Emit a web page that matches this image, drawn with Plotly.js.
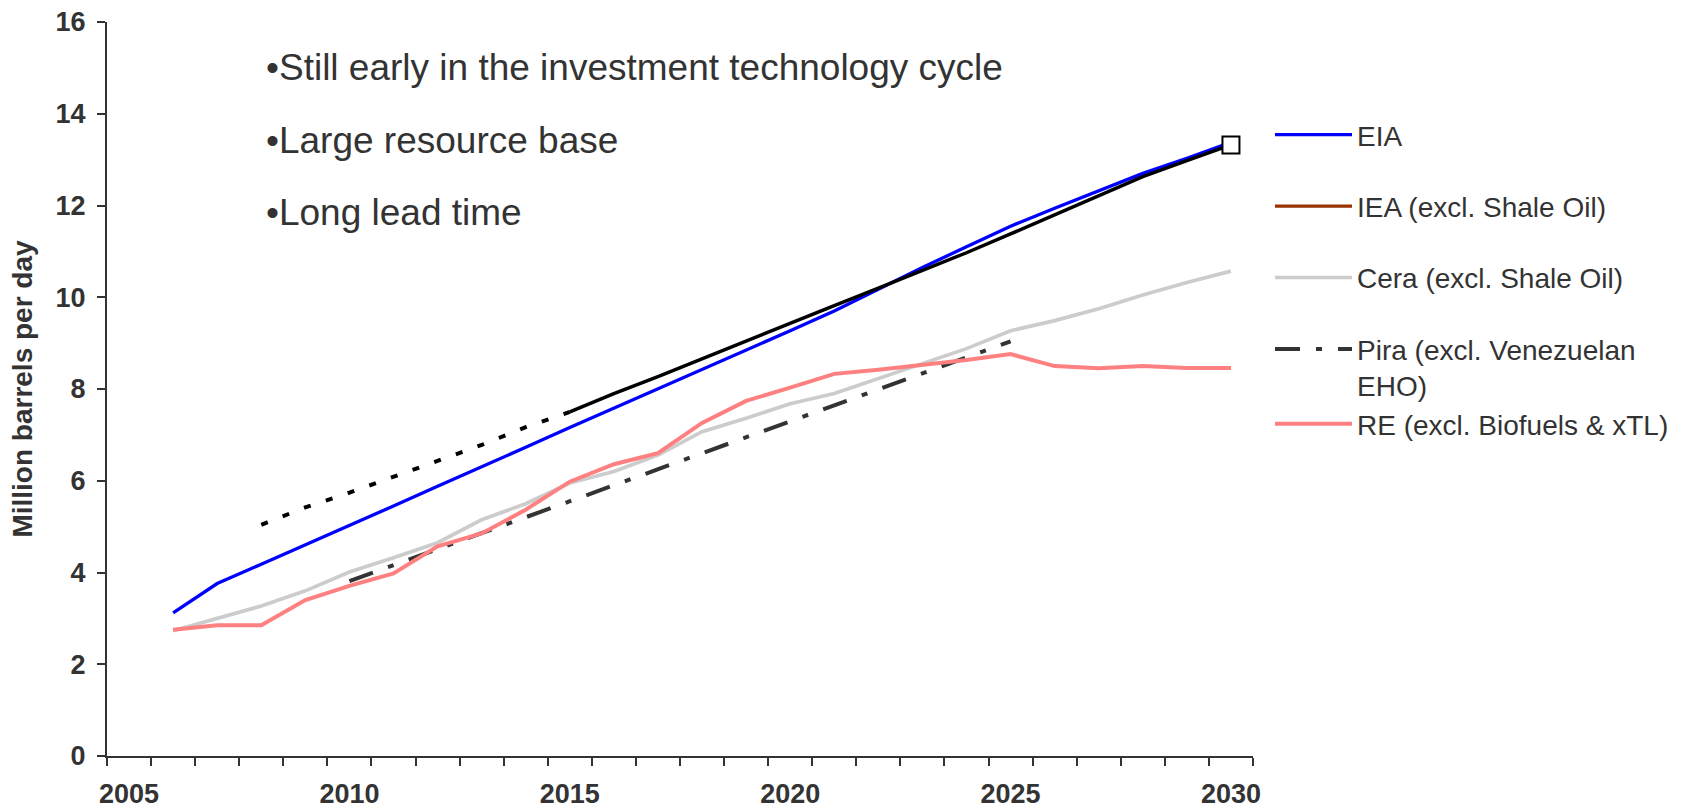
<!DOCTYPE html>
<html>
<head>
<meta charset="utf-8">
<script src="https://cdn.plot.ly/plotly-3.0.1.min.js"></script>
<style>html,body{margin:0;padding:0;background:#fff;}</style>
</head>
<body>
<div id="chart" style="width:1690px;height:812px;"></div>
<script>
// Category axis (years) and tick labels
const years = [2005,2006,2007,2008,2009,2010,2011,2012,2013,2014,2015,2016,2017,2018,2019,2020,2021,2022,2023,2024,2025,2026,2027,2028,2029,2030];
const tickLabels = ['2005','','','','','2010','','','','','2015','','','','','2020','','','','','2025','','','','','2030'];

// Series
const seriesYears = [2006,2007,2008,2009,2010,2011,2012,2013,2014,2015,2016,2017,2018,2019,2020,2021,2022,2023,2024,2025,2026,2027,2028,2029,2030];
const eiaValues  = [3.12,3.76,4.18,4.60,5.03,5.45,5.88,6.30,6.73,7.16,7.58,8.00,8.42,8.85,9.27,9.70,10.17,10.65,11.10,11.55,11.94,12.32,12.70,13.03,13.38];
const ceraValues = [2.73,3.00,3.27,3.60,4.01,4.32,4.65,5.15,5.50,5.95,6.20,6.56,7.07,7.36,7.68,7.90,8.22,8.55,8.88,9.27,9.49,9.75,10.05,10.32,10.57];
const reValues   = [2.75,2.85,2.85,3.40,3.71,3.98,4.57,4.85,5.37,5.98,6.36,6.60,7.26,7.74,8.03,8.33,8.42,8.52,8.63,8.76,8.50,8.45,8.50,8.46,8.46];
const piraYears  = [2010,2015,2020,2025];
const piraValues = [3.81,5.55,7.28,9.04];
const blackDotYears  = [2008,2009,2010,2011,2012,2013,2014,2015];
const blackDotValues = [5.04,5.42,5.74,6.09,6.42,6.78,7.17,7.50];
const blackSolidYears  = [2015,2016,2017,2018,2019,2020,2021,2022,2023,2024,2025,2026,2027,2028,2029,2030];
const blackSolidValues = [7.50,7.90,8.27,8.66,9.06,9.45,9.82,10.20,10.58,10.97,11.38,11.80,12.20,12.63,12.98,13.32];

const FONT = '"Liberation Sans", Arial, Helvetica, sans-serif';
const TXT = '#333333';

const traces = [
  {name:'EIA', x:seriesYears, y:eiaValues, mode:'lines', line:{color:'#0000FF', width:3.3},
   legendgroup:'g1', legend:'legend'},
  {name:'IEA (excl. Shale Oil)', x:[null], y:[null], mode:'lines', line:{color:'#993300', width:3.3},
   legendgroup:'g2', legend:'legend'},
  {name:'Cera (excl. Shale Oil)', x:seriesYears, y:ceraValues, mode:'lines', line:{color:'#CCCCCC', width:3.7},
   legendgroup:'g3', legend:'legend'},
  {name:'Pira (excl. Venezuelan<br>EHO)', x:piraYears, y:piraValues, mode:'lines', connectgaps:true,
   line:{color:'#333333', width:4, dash:'25px,16px,6px,16px'}, legendgroup:'g4', legend:'legend'},
  {name:'black dotted', x:blackDotYears, y:blackDotValues, mode:'lines',
   line:{color:'#000000', width:4, dash:'7px,16px'}, showlegend:false},
  {name:'black solid', x:blackSolidYears, y:blackSolidValues, mode:'lines',
   line:{color:'#000000', width:3.5}, showlegend:false},
  {name:'RE (excl. Biofuels & xTL)', x:seriesYears, y:reValues, mode:'lines', line:{color:'#FF8080', width:4},
   legend:'legend2'},
  {name:'end', x:[blackSolidYears[blackSolidYears.length-1]], y:[blackSolidValues[blackSolidValues.length-1]],
   mode:'markers', marker:{symbol:'square', size:17, color:'#FFFFFF', line:{color:'#000000', width:2}}, showlegend:false}
];

const legendBase = {
  xref:'container', yref:'container', xanchor:'left', yanchor:'top',
  font:{family:FONT, size:28, color:TXT}, itemwidth:77, bgcolor:'rgba(0,0,0,0)',
  traceorder:'grouped', tracegroupgap:32, valign:'top', itemclick:false, itemdoubleclick:false
};

const layout = {
  width:1690, height:812,
  margin:{l:106.7, r:437.3, t:21.5, b:56, pad:0},
  paper_bgcolor:'#FFFFFF', plot_bgcolor:'#FFFFFF',
  font:{family:FONT, color:TXT},
  showlegend:true,
  legend:Object.assign({}, legendBase, {x:1270/1690, y:1-110/812}),
  legend2:Object.assign({}, legendBase, {x:1270/1690, y:1-399/812}),
  xaxis:{
    type:'category', categoryorder:'array', categoryarray:years,
    range:[-0.5, years.length-0.5], tickson:'boundaries',
    tickmode:'array', tickvals:years, ticktext:tickLabels, tickangle:0,
    ticks:'outside', ticklen:8, tickwidth:2, tickcolor:'#333333',
    showline:true, linecolor:'#333333', linewidth:2, showgrid:false, zeroline:false,
    tickfont:{family:FONT, size:27, color:TXT, weight:'bold'}, ticklabelstandoff:13,
    automargin:false, fixedrange:true
  },
  yaxis:{
    range:[0,16], tick0:0, dtick:2, ticks:'outside', ticklen:8, tickwidth:2, tickcolor:'#333333',
    showline:true, linecolor:'#333333', linewidth:2, showgrid:false, zeroline:false,
    tickfont:{family:FONT, size:27, color:TXT, weight:'bold'}, ticklabelstandoff:6,
    title:{text:'Million barrels per day', font:{family:FONT, size:28, color:TXT, weight:'bold'}, standoff:15},
    automargin:false, fixedrange:true
  },
  annotations:[
    {text:'•Still early in the investment technology cycle', xref:'paper', yref:'paper', x:0.1373, y:0.938,
     xanchor:'left', yanchor:'middle', showarrow:false, font:{family:FONT, size:37, color:TXT}},
    {text:'•Large resource base', xref:'paper', yref:'paper', x:0.1373, y:0.8387,
     xanchor:'left', yanchor:'middle', showarrow:false, font:{family:FONT, size:37, color:TXT}},
    {text:'•Long lead time', xref:'paper', yref:'paper', x:0.1373, y:0.7406,
     xanchor:'left', yanchor:'middle', showarrow:false, font:{family:FONT, size:37, color:TXT}}
  ]
};

Plotly.newPlot('chart', traces, layout, {displayModeBar:false, staticPlot:true});
</script>
</body>
</html>
